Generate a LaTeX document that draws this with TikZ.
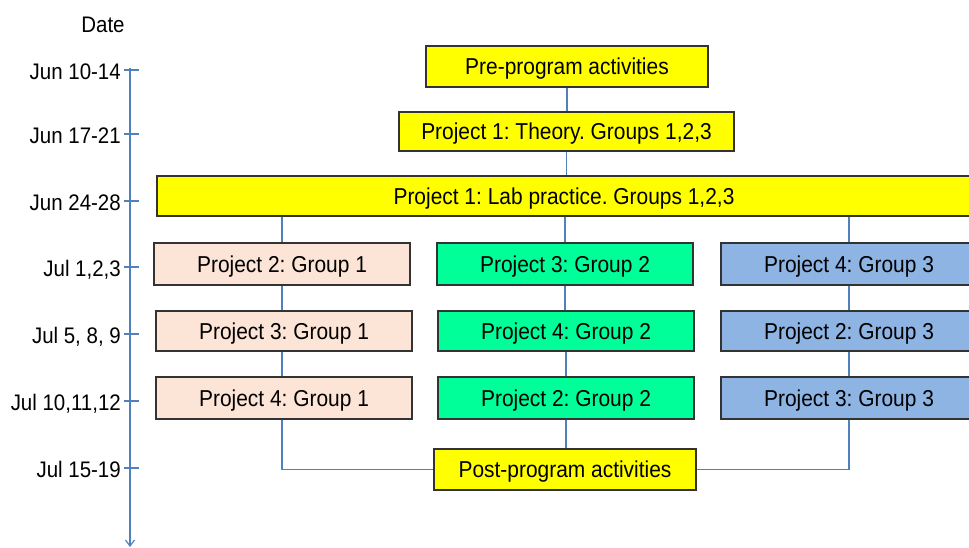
\documentclass[tikz,border=0pt]{standalone}
\usepackage{fontspec}
\setmainfont[FakeStretch=0.91]{Liberation Sans}
\usetikzlibrary{arrows.meta}
\definecolor{boxyellow}{HTML}{FFFF00}
\definecolor{boxpeach}{HTML}{FCE4D6}
\definecolor{boxgreen}{HTML}{00FF99}
\definecolor{boxblue}{HTML}{8DB4E3}
\definecolor{linkblue}{HTML}{4F81BD}
\definecolor{edgegray}{HTML}{333333}
\tikzset{
  box/.style={draw=edgegray, line width=1.4pt, inner sep=0pt, minimum height=41pt,
    text height=16.5pt, text depth=0pt,
    font=\fontsize{23pt}{26pt}\selectfont\frenchspacing, text=black},
  ybox/.style={box, fill=boxyellow},
  pbox/.style={box, fill=boxpeach, minimum width=256pt},
  gbox/.style={box, fill=boxgreen, minimum width=256pt},
  bbox/.style={box, fill=boxblue, minimum width=256pt},
  link/.style={draw=linkblue, line width=1.2pt},
  datelabel/.style={anchor=east, inner sep=0pt, text height=16.5pt, text depth=0pt,
    font=\fontsize{22.5pt}{26pt}\selectfont\frenchspacing},
}
\begin{document}
\begin{tikzpicture}[x=1pt,y=-1pt]
\useasboundingbox (0,0) rectangle (969,548);
\clip (0,0) rectangle (969,548);
% axis
\node[font=\fontsize{22.5pt}{26pt}\selectfont, inner sep=0pt, text height=16.5pt, text depth=0pt] (date) at (103,24) {Date};
\coordinate (axtop) at (130,68);
\coordinate (axbot) at (130,547);
\draw[link, -{Straight Barb[length=6pt,width=9pt]}] (axtop) -- (axbot);
\foreach \y/\t/\n in {70/Jun 10-14/d1, 134/Jun 17-21/d2, 201/Jun 24-28/d3, 267/{Jul 1,2,3}/d4, 334/{Jul 5, 8, 9}/d5, 401/{Jul 10,11,12}/d6, 468/Jul 15-19/d7}{
  \draw[link] (124,\y) -- (139,\y);
  \node[datelabel] (\n) at (121,\y+1.5) {\t};
}
% boxes
\node[ybox, minimum width=282pt] (pre) at (567,66.5) {Pre-program activities};
\node[ybox, minimum width=335pt, minimum height=39pt] (theory) at (566.5,131.5) {Project 1: Theory. Groups 1,2,3};
\node[ybox, minimum width=814pt, minimum height=40pt] (lab) at (564,196) {Project 1: Lab practice. Groups 1,2,3};

\node[pbox, minimum height=42pt] (a1) at (282,264) {Project 2: Group 1};
\node[gbox, minimum height=42pt] (b1) at (565,264) {Project 3: Group 2};
\node[bbox, minimum height=42pt] (c1) at (849,264) {Project 4: Group 3};

\node[pbox, minimum height=40pt] (a2) at (284,331) {Project 3: Group 1};
\node[gbox, minimum height=40pt] (b2) at (566,331) {Project 4: Group 2};
\node[bbox, minimum height=40pt] (c2) at (849,331) {Project 2: Group 3};

\node[pbox, minimum height=42pt] (a3) at (284,398) {Project 4: Group 1};
\node[gbox, minimum height=42pt] (b3) at (566,398) {Project 2: Group 2};
\node[bbox, minimum height=42pt] (c3) at (849,398) {Project 3: Group 3};

\node[ybox, minimum width=262pt] (post) at (565,469.5) {Post-program activities};

% connectors
\draw[link] (pre.south) -- (theory.north -| pre.south);
\draw[link] (theory.south) -- (lab.north -| theory.south);
\draw[link] (lab.south -| a1.north) -- (a1.north);
\draw[link] (lab.south -| b1.north) -- (b1.north);
\draw[link] (lab.south -| c1.north) -- (c1.north);
\draw[link] (a1.south) -- (a2.north -| a1.south);
\draw[link] (a2.south -| a1.south) -- (a3.north -| a1.south);
\draw[link] (b1.south) -- (b2.north -| b1.south);
\draw[link] (b2.south) -- (b3.north);
\draw[link] (c1.south) -- (c2.north);
\draw[link] (c2.south) -- (c3.north);
\draw[link] (a3.south -| a1.south) |- (post.west);
\draw[link] (b3.south) -- (post.north -| b3.south);
\draw[link] (c3.south) |- (post.east);
\end{tikzpicture}
\end{document}
